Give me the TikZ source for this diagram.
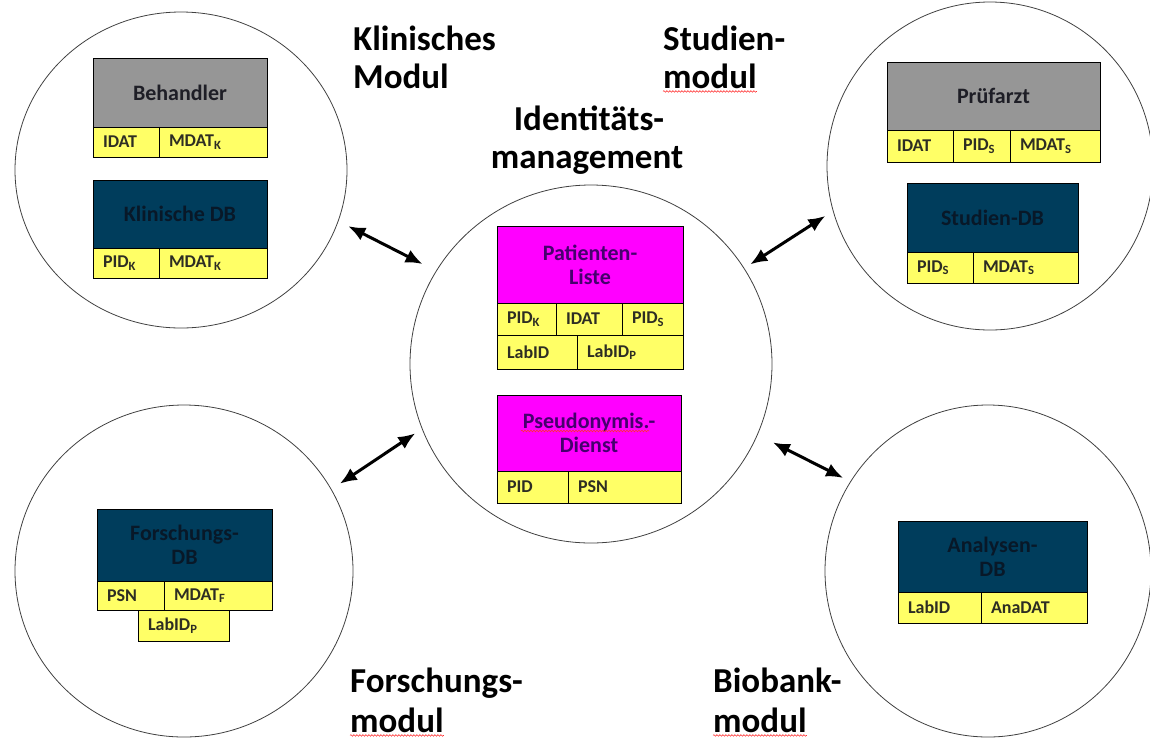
\documentclass[tikz,border=0pt]{standalone}
\usepackage{fontspec}
\setmainfont{Carlito}
\usetikzlibrary{positioning,calc,shapes.geometric,arrows.meta,decorations.pathmorphing}

\definecolor{kopfgrau}{RGB}{150,150,150}
\definecolor{kopftext}{RGB}{30,30,38}
\definecolor{dbblau}{RGB}{0,61,92}
\definecolor{dbtext}{RGB}{8,24,40}
\definecolor{listemag}{RGB}{255,0,255}
\definecolor{listetext}{RGB}{70,0,110}
\definecolor{feldgelb}{RGB}{255,255,102}
\definecolor{feldtext}{RGB}{45,45,35}

\begin{document}
\begin{tikzpicture}[x=1pt,y=-1pt]
    \tikzstyle{modul}=[draw=black!75,line width=0.8pt,ellipse,inner sep=0]
    \tikzstyle{title}=[font=\fontsize{35}{40}\selectfont\bfseries,anchor=base west,inner sep=0]
    \tikzstyle{head}=[draw,line width=1pt,anchor=north west,inner sep=0,outer sep=0,align=center,font=\fontsize{22}{24}\selectfont\bfseries]
    \tikzstyle{grau}=[fill=kopfgrau,text=kopftext]
    \tikzstyle{db}=[fill=dbblau,text=dbtext]
    \tikzstyle{liste}=[fill=listemag,text=listetext]
    \tikzset{cell/.style={draw,line width=1pt,fill=feldgelb,text=feldtext,anchor=north west,
        inner xsep=10pt,inner ysep=0,outer sep=0,align=left,text width=#1,font=\fontsize{18}{20}\selectfont\bfseries}}
    \tikzstyle{link}=[{Latex[length=17pt,width=14pt]}-{Latex[length=17pt,width=14pt]},line width=3pt]
    \tikzstyle{squiggle}=[red!80,line width=0.6pt,decorate,decoration={snake,amplitude=0.8pt,segment length=3pt}]
    {
        \useasboundingbox (0,0) rectangle (1150,740);

        % module circles
        \node[modul,minimum width=332,minimum height=316] (kl) at (181,170) {};
        \node[modul,minimum width=326,minimum height=328] (st) at (990,166) {};
        \node[modul,minimum width=362,minimum height=358] (idm) at (591,364) {};
        \node[modul,minimum width=338,minimum height=332] (fo) at (184,571) {};
        \node[modul,minimum width=326,minimum height=332] (bb) at (988,571) {};

        % titles
        \node[title] (kl1) at (353,50) {Klinisches};
        \node[title] (kl2) at (353,88) {Modul};
        \node[title] (st1) at (663,50) {Studien-};
        \node[title] (st2) at (663,88) {modul};
        \node[title,anchor=base] (idm1) at (589,130) {Identitäts-};
        \node[title,anchor=base] (idm2) at (587,168) {management};
        \node[title] (fo1) at (350,692) {Forschungs-};
        \node[title] (fo2) at (350,732) {modul};
        \node[title] (bb1) at (713,692) {Biobank-};
        \node[title] (bb2) at (713,732) {modul};

        % Klinisches Modul
        \node[head,grau,minimum width=174,minimum height=69] (beh) at (93,58) {Behandler};
        \node[cell=46pt,minimum height=30] (beh1) at (beh.south west) {IDAT};
        \node[cell=88pt,minimum height=30] (beh2) at (beh1.north east) {MDAT\textsubscript{K}};
        \node[head,db,minimum width=174,minimum height=68] (kdb) at (93,180) {Klinische DB};
        \node[cell=46pt,minimum height=30] (kdb1) at (kdb.south west) {PID\textsubscript{K}};
        \node[cell=88pt,minimum height=30] (kdb2) at (kdb1.north east) {MDAT\textsubscript{K}};

        % Studienmodul
        \node[head,grau,minimum width=213,minimum height=68] (pa) at (887,62) {Prüfarzt};
        \node[cell=46pt,minimum height=32] (pa1) at (pa.south west) {IDAT};
        \node[cell=37pt,minimum height=32] (pa2) at (pa1.north east) {PID\textsubscript{S}};
        \node[cell=70pt,minimum height=32] (pa3) at (pa2.north east) {MDAT\textsubscript{S}};
        \node[head,db,minimum width=171,minimum height=69] (sdb) at (907,183) {Studien-DB};
        \node[cell=46pt,minimum height=31] (sdb1) at (sdb.south west) {PID\textsubscript{S}};
        \node[cell=85pt,minimum height=31] (sdb2) at (sdb1.north east) {MDAT\textsubscript{S}};

        % Identitaetsmanagement
        \node[head,liste,minimum width=186,minimum height=77] (pl) at (497,226) {Patienten-\\Liste};
        \node[cell=39pt,minimum height=32] (pl1) at (pl.south west) {PID\textsubscript{K}};
        \node[cell=46pt,minimum height=32] (pl2) at (pl1.north east) {IDAT};
        \node[cell=41pt,minimum height=32] (pl3) at (pl2.north east) {PID\textsubscript{S}};
        \node[cell=60pt,minimum height=34] (pl4) at (pl1.south west) {LabID};
        \node[cell=86pt,minimum height=34] (pl5) at (pl4.north east) {LabID\textsubscript{P}};
        \node[head,liste,minimum width=184,minimum height=76] (psd) at (497,395) {Pseudonymis.-\\Dienst};
        \node[cell=51pt,minimum height=32] (psd1) at (psd.south west) {PID};
        \node[cell=93pt,minimum height=32] (psd2) at (psd1.north east) {PSN};

        % Forschungsmodul
        \node[head,db,minimum width=175,minimum height=72] (fdb) at (97,509) {Forschungs-\\DB};
        \node[cell=47pt,minimum height=29] (fdb1) at (fdb.south west) {PSN};
        \node[cell=88pt,minimum height=29] (fdb2) at (fdb1.north east) {MDAT\textsubscript{F}};
        \node[cell=71pt,minimum height=31] (fdb3) at ($(fdb1.south west)+(41,0)$) {LabID\textsubscript{P}};

        % Biobankmodul
        \node[head,db,minimum width=189,minimum height=71] (adb) at (898,521) {Analysen-\\DB};
        \node[cell=63pt,minimum height=31] (adb1) at (adb.south west) {LabID};
        \node[cell=86pt,minimum height=31] (adb2) at (adb1.north east) {AnaDAT};

        % spelling marks
        \draw[squiggle] ($(st2.south west)+(0,3)$) -- ($(st2.south east)+(0,3)$);
        \draw[squiggle] ($(fo2.south west)+(0,3)$) -- ($(fo2.south east)+(0,3)$);
        \draw[squiggle] ($(bb2.south west)+(0,3)$) -- ($(bb2.south east)+(0,3)$);
        \draw[squiggle] ($(psd.center)+(-68,-2)$) -- ++(128,0);

        \path[link]
            (kl.-18) edge[shorten <=11pt,shorten >=15pt] (idm.149)
            (idm.32) edge[shorten <=7pt,shorten >=9pt] (st.196)
            (fo.29) edge[shorten <=10pt,shorten >=8pt] (idm.201)
            (idm.-23.5) edge[shorten <=17pt,shorten >=8pt] (bb.147);
    }
\end{tikzpicture}
\end{document}
